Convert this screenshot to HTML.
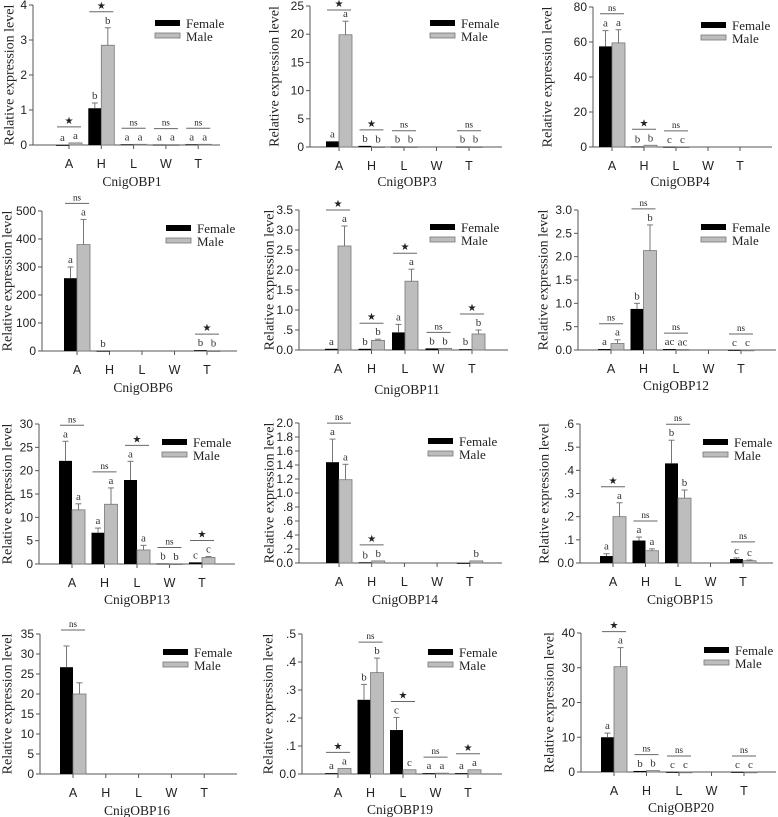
<!DOCTYPE html>
<html><head><meta charset="utf-8"><style>
html,body{margin:0;padding:0;background:#fff;}
svg{display:block;}
</style></head><body>
<svg id="fig" width="778" height="817" viewBox="0 0 778 817" xmlns="http://www.w3.org/2000/svg"></svg>
<script>
const categories = ['A','H','L','W','T'];
const genes = ['CnigOBP1','CnigOBP3','CnigOBP4','CnigOBP6','CnigOBP11','CnigOBP12','CnigOBP13','CnigOBP14','CnigOBP15','CnigOBP16','CnigOBP19','CnigOBP20'];
const yMaxes = [4,25,80,500,3.5,3.0,30,2.0,0.6,35,0.5,40];
const yTickLabels = [
 ['0','1','2','3','4'],
 ['0','5','10','15','20','25'],
 ['0','20','40','60','80'],
 ['0','100','200','300','400','500'],
 ['0.0','.5','1.0','1.5','2.0','2.5','3.0','3.5'],
 ['0.0','.5','1.0','1.5','2.0','2.5','3.0'],
 ['0','5','10','15','20','25','30'],
 ['0.0','.2','.4','.6','.8','1.0','1.2','1.4','1.6','1.8','2.0'],
 ['0.0','.1','.2','.3','.4','.5','.6'],
 ['0','5','10','15','20','25','30','35'],
 ['0.0','.1','.2','.3','.4','.5'],
 ['0','10','20','30','40']
];
const femaleValues = [
 [0,1.05,0.02,0.01,0.02],
 [1.0,0.2,0.05,null,0.05],
 [57.5,0.3,0.1,null,null],
 [260,0.5,null,null,3],
 [0.03,0.03,0.44,0.04,0.02],
 [0.02,0.88,0.02,null,0],
 [22.1,6.7,18,0.1,0.35],
 [1.44,0.01,null,null,0],
 [0.03,0.097,0.43,null,0.017],
 [26.7,null,null,null,null],
 [0.003,0.265,0.157,0.003,0.003],
 [10,0.3,0,null,0]
];
const maleValues = [
 [0.06,2.85,0.02,0.01,0.02],
 [19.9,0.05,0.05,null,0.05],
 [59.5,1.0,0.1,null,null],
 [380,null,null,null,1],
 [2.6,0.24,1.72,0.04,0.4],
 [0.14,2.13,0.01,null,0],
 [11.6,12.8,3,0.05,1.4],
 [1.19,0.03,null,null,0.03],
 [0.2,0.053,0.28,null,0.01],
 [20,null,null,null,null],
 [0.02,0.362,0.015,0.003,0.015],
 [30.3,0.4,0,null,0]
];
const femaleErrors = [
 [0,0.15,0,0,0],[0,0,0,0,0],[9,0,0,0,0],[40,0,0,0,0],
 [0,0,0.2,0,0],[0,0.12,0,0,0],[4.2,1,4,0,0],[0.33,0,0,0,0],
 [0.01,0.015,0.1,0,0.005],[5.3,0,0,0,0],[0,0.055,0.045,0,0],[1.2,0,0,0,0]
];
const maleErrors = [
 [0,0.5,0,0,0],[2.4,0,0,0,0],[7.5,0,0,0,0],[90,0,0,0,0],
 [0.5,0.03,0.3,0,0.1],[0.08,0.55,0,0,0],[1.3,3.5,1,0,0.2],[0.22,0,0,0,0],
 [0.06,0.008,0.035,0,0.003],[2.8,0,0,0,0],[0,0.052,0,0,0],[5.5,0,0,0,0]
];
const femaleLetters = [
 ['a','b','a','a','a'],['a','b','b','','b'],['a','b','c','',''],['a','b','','','b'],
 ['a','b','a','b','b'],['a','b','ac','','c'],['a','a','a','b','c'],['a','b','','',''],
 ['a','a','b','','c'],['','','','',''],['a','b','c','a','a'],['a','b','c','','c']
];
const maleLetters = [
 ['a','b','a','a','a'],['a','b','b','','b'],['a','b','c','',''],['a','','','','b'],
 ['a','b','a','b','b'],['a','b','ac','','c'],['a','a','a','b','c'],['a','b','','','b'],
 ['a','a','b','','c'],['','','','',''],['a','b','c','a','a'],['a','b','c','','c']
];
const sigMarks = [
 ['*','*','ns','ns','ns'],['*','*','ns','','ns'],['ns','*','ns','',''],['ns','','','','*'],
 ['*','*','*','ns','*'],['ns','ns','ns','','ns'],['ns','ns','*','ns','*'],['ns','*','','',''],
 ['*','ns','ns','','ns'],['ns','','','',''],['*','ns','*','ns','*'],['*','ns','ns','','ns']
];

// layout (pixel geometry, not data)
const layouts = [
 {ax:33,top:5,y0:145,a:69,step:32.3,xEnd:220,lx:155,ly:23,tx:132,ty:182,yt:10},
 {ax:310,top:6,y0:147,a:339,step:32.5,xEnd:502,lx:430,ly:23,tx:407,ty:182,yt:275},
 {ax:593,top:7,y0:147,a:612,step:32,xEnd:772,lx:701,ly:25,tx:680,ty:182,yt:548},
 {ax:42,top:211,y0:351,a:77,step:32.5,xEnd:237,lx:166,ly:228,tx:143,ty:388,yt:8},
 {ax:299,top:210,y0:350,a:338,step:33.5,xEnd:508,lx:430,ly:227,tx:407,ty:390,yt:270},
 {ax:578,top:210,y0:350,a:611,step:32.5,xEnd:776,lx:701,ly:227,tx:676,ty:386,yt:544},
 {ax:39,top:424,y0:564,a:72,step:32.5,xEnd:235,lx:162,ly:442,tx:137,ty:600,yt:8},
 {ax:299,top:423,y0:563,a:339,step:32.7,xEnd:502,lx:428,ly:441,tx:405,ty:600,yt:270},
 {ax:580,top:424,y0:563,a:613,step:32.5,xEnd:773,lx:703,ly:442,tx:680,ty:600,yt:545},
 {ax:40,top:634,y0:774,a:73,step:32.8,xEnd:237,lx:163,ly:652,tx:137,ty:811,yt:8},
 {ax:302,top:634,y0:774,a:338,step:32.5,xEnd:502,lx:428,ly:652,tx:400,ty:810,yt:269},
 {ax:581,top:633,y0:772,a:614,step:32.5,xEnd:776,lx:704,ly:650,tx:681,ty:808,yt:550}
];

const NS='http://www.w3.org/2000/svg';
const svg=document.getElementById('fig');
function mk(tag,attrs,parent,text){
  const e=document.createElementNS(NS,tag);
  for(const k in attrs)e.setAttribute(k,attrs[k]);
  if(text!==undefined)e.textContent=text;
  (parent||svg).appendChild(e);return e;
}
const serif='"Liberation Serif", serif', sans='"Liberation Sans", sans-serif';
const BW=13;

genes.forEach((gene,p)=>{
  const L=layouts[p], ymax=yMaxes[p];
  const g=mk('g',{});
  
  
  const yv=v=>L.y0-v/ymax*(L.y0-L.top);
  const xc=i=>L.a+i*L.step;
  const yax=mk('line',{x1:L.ax,y1:L.top,x2:L.ax,y2:L.y0,stroke:'#555','stroke-width':1},g);
  
  
  const xax=mk('line',{x1:L.ax,y1:L.y0,x2:L.xEnd,y2:L.y0,stroke:'#555','stroke-width':1},g);
  
  
  const ticks=yTickLabels[p], n=ticks.length-1;
  ticks.forEach((t,k)=>{
    const y=yv(ymax*k/n);
    mk('line',{x1:L.ax-4,y1:y,x2:L.ax,y2:y,stroke:'#555'},g);
    const tl=mk('text',{x:L.ax-6,y:y+4,'text-anchor':'end','font-family':sans,'font-size':12,fill:'#222'},g,t);
    
    
  });
  categories.forEach((c,i)=>{
    const x=xc(i);
    mk('line',{x1:x,y1:L.y0,x2:x,y2:L.y0+4,stroke:'#555'},g);
    const cl=mk('text',{x:x,y:L.y0+23,'text-anchor':'middle','font-family':sans,'font-size':12.5,fill:'#222'},g,c);
    
    
    const fv=femaleValues[p][i], mv=maleValues[p][i];
    const fe=femaleErrors[p][i]||0, me=maleErrors[p][i]||0;
    let tops=[];
    if(fv!==null){
      const y=yv(fv);
      const b=mk('rect',{x:x-BW,y:y,width:BW,height:Math.max(L.y0-y,0.8),fill:'#000'},g);
      
      
      if(fe>0){const ye=yv(fv+fe);mk('line',{x1:x-BW/2,y1:y,x2:x-BW/2,y2:ye,stroke:'#777'},g);mk('line',{x1:x-BW/2-3,y1:ye,x2:x-BW/2+3,y2:ye,stroke:'#777'},g);}
      const ly=yv(fv+fe)-4;
      if(femaleLetters[p][i]){const t=mk('text',{x:x-BW/2,y:ly,'text-anchor':'middle','font-family':serif,'font-size':11,fill:'#333'},g,femaleLetters[p][i]);
        
        }
      tops.push(ly);
    }
    if(mv!==null){
      const y=yv(mv);
      const b=mk('rect',{x:x,y:y,width:BW,height:Math.max(L.y0-y,0.8),fill:'#bdbdbd',stroke:'#777','stroke-width':0.8},g);
      
      
      if(me>0){const ye=yv(mv+me);mk('line',{x1:x+BW/2,y1:y,x2:x+BW/2,y2:ye,stroke:'#777'},g);mk('line',{x1:x+BW/2-3,y1:ye,x2:x+BW/2+3,y2:ye,stroke:'#777'},g);}
      const ly=yv(mv+me)-4;
      if(maleLetters[p][i]){const t=mk('text',{x:x+BW/2,y:ly,'text-anchor':'middle','font-family':serif,'font-size':11,fill:'#333'},g,maleLetters[p][i]);
        
        }
      tops.push(ly);
    }
    const s=sigMarks[p][i];
    if(s && tops.length){
      const lineY=Math.max(Math.min(...tops)-12, 10);
      mk('line',{x1:x-12,y1:lineY,x2:x+12,y2:lineY,stroke:'#666'},g);
      const st=mk('text',{x:x,y:lineY-3,'text-anchor':'middle','font-family':serif,'font-size':s==='*'?10:9,fill:'#222'},g,s==='*'?'★':'ns');
      
      
    }
  });
  const lg=mk('g',{},g);
  
  
  mk('rect',{x:L.lx,y:L.ly-3,width:25,height:6,fill:'#000'},lg);
  const lf=mk('text',{x:L.lx+31,y:L.ly+5,'font-family':serif,'font-size':13,fill:'#222'},lg,'Female');
  
  
  mk('rect',{x:L.lx,y:L.ly+10,width:25,height:5,fill:'#bdbdbd',stroke:'#777','stroke-width':0.8},lg);
  const lm=mk('text',{x:L.lx+31,y:L.ly+18,'font-family':serif,'font-size':13,fill:'#222'},lg,'Male');
  
  
  const yc=(L.top+L.y0)/2;
  const yt=mk('text',{x:L.yt,y:yc,'text-anchor':'middle','font-family':serif,'font-size':14,fill:'#222',transform:'rotate(-90 '+L.yt+' '+yc+')','dominant-baseline':'central'},g,'Relative expression level');
  
  
  const tt=mk('text',{x:L.tx,y:L.ty+4,'text-anchor':'middle','font-family':serif,'font-size':13.5,fill:'#222'},g,gene);
  
  
});
</script>
</body></html>
